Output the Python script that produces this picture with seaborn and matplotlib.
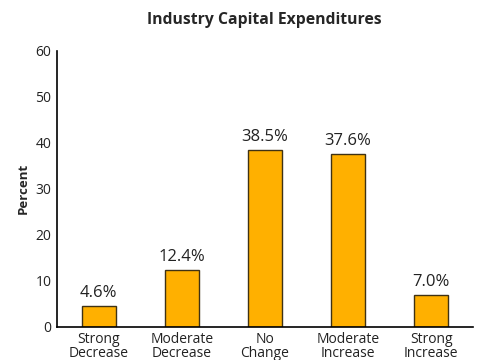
import matplotlib
matplotlib.use("Agg")
import matplotlib.pyplot as plt
import seaborn as sns
import pandas as pd

categories = ["Strong\nDecrease", "Moderate\nDecrease", "No\nChange",
              "Moderate\nIncrease", "Strong\nIncrease"]
values = [4.6, 12.4, 38.5, 37.6, 7.0]
value_labels = ["4.6%", "12.4%", "38.5%", "37.6%", "7.0%"]
y_ticks = [0, 10, 20, 30, 40, 50, 60]

sns.set_style("white")
plt.rcParams["font.family"] = ["Open Sans", "DejaVu Sans"]

df = pd.DataFrame({"category": categories, "percent": values})

fig = plt.figure(figsize=(4.79, 3.6), dpi=100)
ax = fig.add_axes([0.119, 0.0925, 0.868, 0.7665])

sns.barplot(data=df, x="category", y="percent", color="#FFB000",
            saturation=1, width=0.41, edgecolor="#3f3214", linewidth=1.0,
            ax=ax)

for patch, lab in zip(ax.patches, value_labels):
    ax.annotate(lab, (patch.get_x() + patch.get_width() / 2, patch.get_height()),
                xytext=(0, 3.5), textcoords="offset points",
                ha="center", va="bottom", fontsize=12, color="#222222")

ax.set_ylim(0, 60)
ax.set_xlim(-0.5, 4.5)
ax.set_yticks(y_ticks)
ax.set_yticklabels([str(t) for t in y_ticks], fontsize=10, color="#222222")
ax.set_xticks(range(len(categories)))
ax.set_xticklabels(categories, fontsize=10, color="#222222", linespacing=0.85)
ax.set_xticks([i - 0.5 for i in range(len(categories) + 1)], minor=True)
ax.tick_params(axis="x", which="major", length=0, pad=4)
ax.tick_params(axis="x", which="minor", length=4, width=1, color="black",
               direction="out")
ax.tick_params(axis="y", length=3, width=1, color="black", direction="out",
               pad=1)

for side in ["top", "right"]:
    ax.spines[side].set_visible(False)
for side in ["left", "bottom"]:
    ax.spines[side].set_color("black")
    ax.spines[side].set_linewidth(1.2)

ax.set_xlabel("")
ax.set_ylabel("Percent", fontsize=9.5, fontweight="bold", labelpad=4)
fig.text(0.552, 0.945, "Industry Capital Expenditures", ha="center",
         va="center", fontsize=11.3, fontweight="bold")

fig.savefig("out.png", dpi=100)
